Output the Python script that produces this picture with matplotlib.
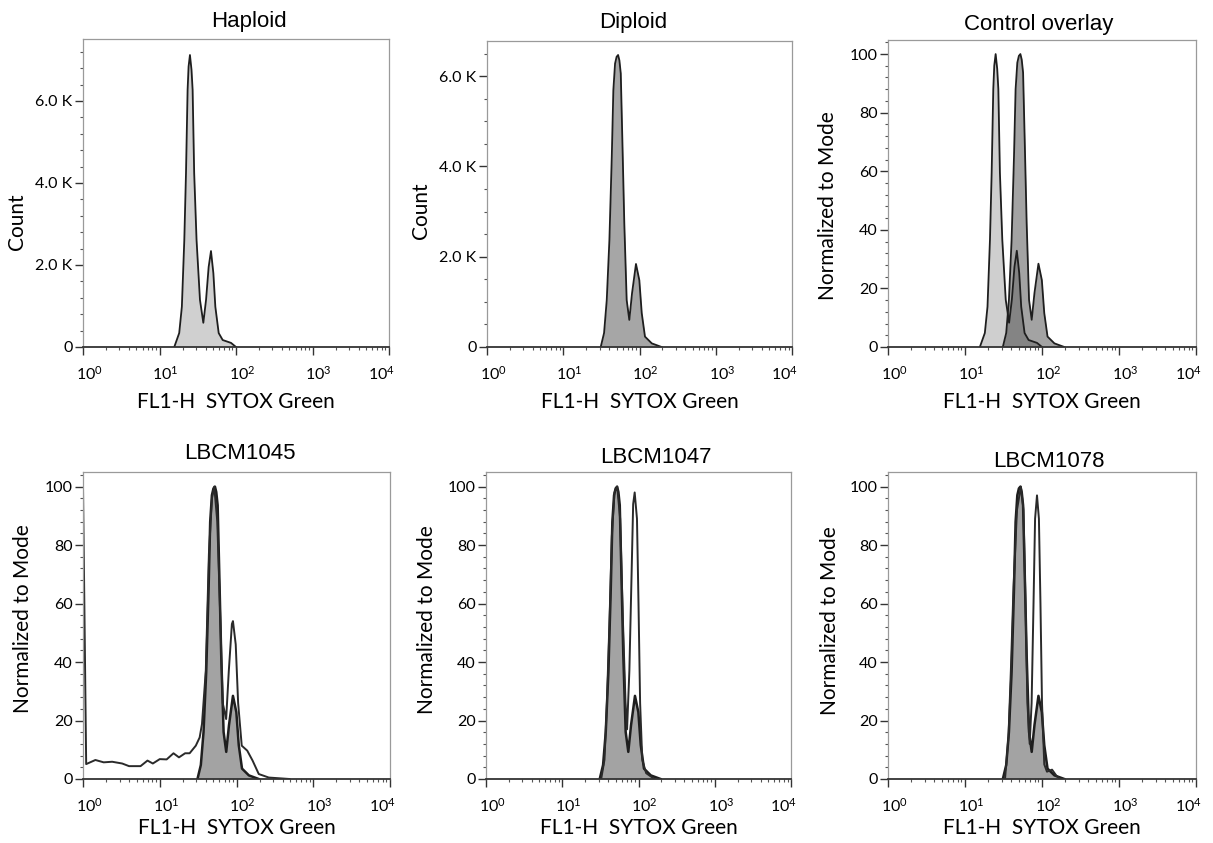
import numpy as np
import matplotlib
matplotlib.use('Agg')
import matplotlib.pyplot as plt
from matplotlib import ticker
from matplotlib.transforms import ScaledTranslation

plt.rcParams['font.family'] = ['Lato', 'DejaVu Sans']
plt.rcParams['mathtext.fontset'] = 'custom'
plt.rcParams['mathtext.rm'] = 'Lato'
plt.rcParams['mathtext.it'] = 'Lato:italic'
plt.rcParams['mathtext.bf'] = 'Lato:bold'

# Haploid control: FL1-H value and cell count
haploid_x = [15.6, 18.1, 19.6, 21.1, 22.2, 23.3, 24.0, 25.0, 26.2, 27.1, 28.4, 30.5,
             33.8, 37.4, 40.6, 43.9, 47.1, 50.6, 53.7, 59.4, 67.0, 86.1, 100]
haploid_count = [0, 340, 980, 2610, 4240, 6270, 6840, 7120, 6760, 6270, 4240, 2610,
                 1150, 590, 1150, 1950, 2340, 1800, 980, 340, 170, 100, 0]

# Diploid control
diploid_x = [31.0, 34.3, 37.2, 40.3, 43.3, 45.4, 47.8, 50.1, 52.4, 54.5, 56.8, 59.6,
             63.2, 67.9, 73.5, 79.8, 89.9, 99.5, 107, 118, 145, 195]
diploid_count = [0, 310, 1040, 2370, 4215, 5690, 6280, 6430, 6470, 6350, 6060, 4585,
                 2740, 1040, 600, 1190, 1840, 1480, 750, 230, 80, 0]

# Strains, normalized to mode (%)
lbcm1045_x = [1.0, 1.10, 1.45, 1.86, 2.40, 3.24, 3.98, 5.62, 6.92, 8.13, 10.0, 12.3,
              15.1, 17.8, 21.4, 24.5, 29.5, 33.1, 35.5, 39.8, 43.7, 47.9, 51.3, 56.2,
              61.7, 66.1, 73.3, 79.4, 87.1, 89.9, 97.7, 105, 117, 138, 162, 195, 263, 490]
lbcm1045_pct = [100, 5.1, 6.5, 5.7, 5.9, 5.3, 4.4, 4.4, 6.3, 5.3, 6.8, 6.7,
                8.8, 7.4, 8.8, 8.8, 11.4, 14.2, 18.8, 37, 77, 96, 100, 88,
                54, 26, 20.5, 37, 53, 54, 46, 26, 11.4, 9.7, 6.3, 1.7, 0.5, 0]

lbcm1047_x = [32.4, 35.8, 38.5, 41.7, 44.7, 48.4, 52.5, 57.5, 62.4, 67.6, 70.8, 75.9,
              81.3, 85.1, 89.1, 95.5, 100, 105, 112, 126, 162]
lbcm1047_pct = [0, 6.6, 26, 54.5, 83, 98, 100, 89, 54.5, 26, 17, 37,
                71, 94, 98, 89, 60, 26, 6.6, 2, 0]

lbcm1078_x = [33.1, 36.7, 39.4, 42.7, 47.3, 53.2, 57.5, 61.1, 64.6, 69.2, 73.3, 77.6,
              81.3, 86.1, 91.2, 95.5, 100, 107, 116, 135, 155, 174]
lbcm1078_pct = [0, 14.6, 37, 66, 92, 100, 92, 60, 26, 12, 26, 60,
                89, 97, 89, 60, 26, 5, 2.5, 3.2, 1, 0]

titles = ['Haploid', 'Diploid', 'Control overlay', 'LBCM1045', 'LBCM1047', 'LBCM1078']
xlabel = 'FL1-H  SYTOX Green'

haploid_norm = np.array(haploid_count) / max(haploid_count) * 100
diploid_norm = np.array(diploid_count) / max(diploid_count) * 100

W, H = 1213, 843
fig = plt.figure(figsize=(W / 100, H / 100), dpi=100)


def add_panel(left, top, right, bottom):
    return fig.add_axes([left / W, 1 - bottom / H, (right - left) / W, (bottom - top) / H])


def style_axes(ax, ymax, major, minor, count_fmt=False):
    ax.set_xscale('log')
    ax.set_xlim(1, 1e4)
    ax.set_ylim(0, ymax)
    for side in ['top', 'right', 'left']:
        ax.spines[side].set_color('#9a9a9a')
        ax.spines[side].set_linewidth(0.9)
    ax.spines['bottom'].set_color('#333333')
    ax.spines['bottom'].set_linewidth(1.3)

    ax.xaxis.set_major_locator(ticker.FixedLocator([1, 10, 100, 1000, 10000]))
    ax.xaxis.set_minor_locator(ticker.LogLocator(base=10, subs=np.arange(2, 10), numticks=40))
    ax.xaxis.set_minor_formatter(ticker.NullFormatter())
    ax.xaxis.set_major_formatter(ticker.FuncFormatter(
        lambda v, p: r'$10^{%d}$' % int(round(np.log10(v)))))
    ax.yaxis.set_major_locator(ticker.MultipleLocator(major))
    ax.yaxis.set_minor_locator(ticker.MultipleLocator(minor))
    if count_fmt:
        ax.yaxis.set_major_formatter(ticker.FuncFormatter(
            lambda v, p: '0' if v == 0 else f'{v / 1000:.1f} K'))

    ax.tick_params(axis='both', which='major', direction='out', length=5.5, width=1.0,
                   color='#333333', labelsize=11.5, pad=2)
    ax.tick_params(axis='both', which='minor', direction='out', length=2.5, width=0.8,
                   color='#555555')
    ax.tick_params(axis='x', which='major', pad=7)
    # FlowJo puts the decade labels a little right of the tick (last one sits inside)
    labels = ax.get_xticklabels()
    for k, lab in enumerate(labels):
        dx = -8 if k == len(labels) - 1 else 6
        lab.set_transform(lab.get_transform() + ScaledTranslation(dx / 100, 0, fig.dpi_scale_trans))

    ax.set_xlabel(xlabel, fontsize=15)


def filled(ax, x, y, color, edge='#1e1e1e', lw=1.3, alpha=1.0):
    ax.fill_between(x, y, 0, color=color, alpha=alpha, linewidth=0)
    ax.plot(x, y, color=edge, linewidth=lw)


# ---- top row ----
ax1 = add_panel(83, 39, 389, 347)
filled(ax1, haploid_x, haploid_count, '#d0d0d0')
style_axes(ax1, 7510, 2000, 400, count_fmt=True)
ax1.set_ylabel('Count', fontsize=15)

ax2 = add_panel(487, 41, 792, 347)
filled(ax2, diploid_x, diploid_count, '#a6a6a6')
style_axes(ax2, 6780, 2000, 500, count_fmt=True)
ax2.set_ylabel('Count', fontsize=15)

ax3 = add_panel(888, 40, 1196, 347)
filled(ax3, haploid_x, haploid_norm, 'black', alpha=0.19)
filled(ax3, diploid_x, diploid_norm, 'black', alpha=0.36)
style_axes(ax3, 104.8, 20, 4)
ax3.set_ylabel('Normalized to Mode', fontsize=15)

# ---- bottom row: diploid control filled, strain as open line ----
ax4 = add_panel(83, 472, 390, 779)
ax5 = add_panel(486, 472, 791, 779)
ax6 = add_panel(888, 472, 1196, 779)
strains = [(ax4, lbcm1045_x, lbcm1045_pct),
           (ax5, lbcm1047_x, lbcm1047_pct),
           (ax6, lbcm1078_x, lbcm1078_pct)]
for ax, sx, sy in strains:
    filled(ax, diploid_x, diploid_norm, '#a3a3a3', lw=1.8)
    ax.plot(sx, sy, color='#2a2a2a', linewidth=1.4)
    style_axes(ax, 105, 20, 4)
    ax.set_ylabel('Normalized to Mode', fontsize=15)

# titles and label placement (matched to the original figure)
axes = [ax1, ax2, ax3, ax4, ax5, ax6]
title_x = [0.542, 0.479, 0.49, 0.51, 0.557, 0.523]
title_pad = [8.6, 9.4, 7.2, 9.4, 6.5, 3.6]
ylab_x = [-0.183, -0.183, -0.162, -0.163, -0.16, -0.156]
ylab_y = [0.406, 0.444, 0.46, 0.524, 0.52, 0.516]
for i, ax in enumerate(axes):
    ax.set_title(titles[i], fontsize=16, family=['Liberation Sans', 'DejaVu Sans'],
                 x=title_x[i], pad=title_pad[i])
    ax.yaxis.set_label_coords(ylab_x[i], ylab_y[i])
    ax.xaxis.set_label_coords(0.5, -0.147 if i < 3 else -0.127)

fig.savefig('out.png', dpi=100)
